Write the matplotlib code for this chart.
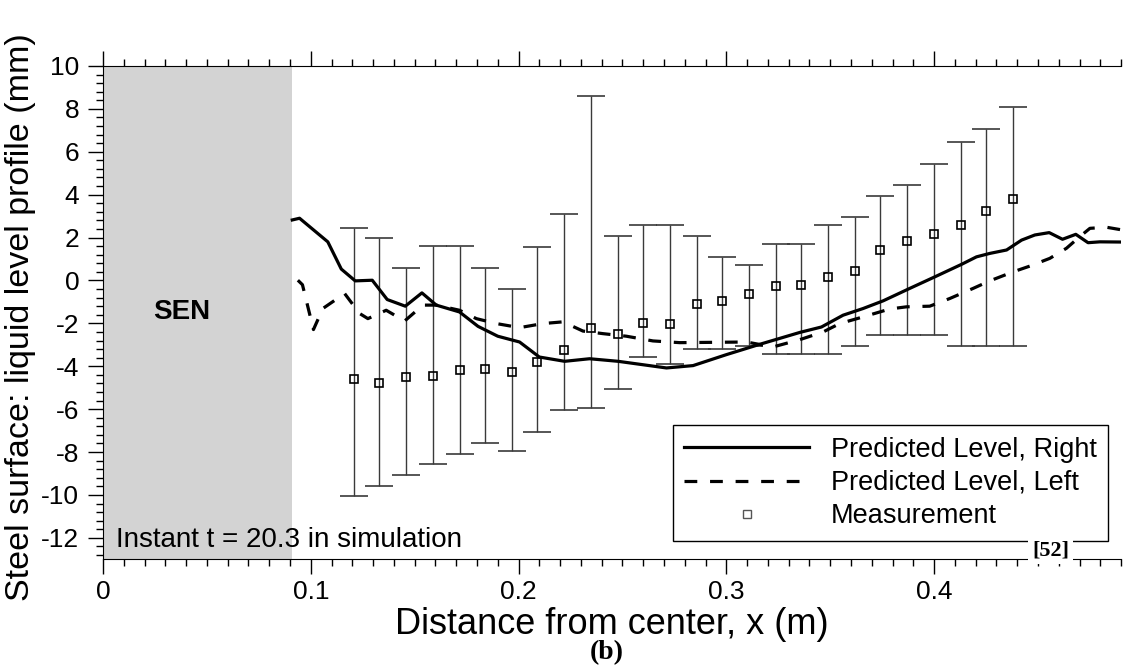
import matplotlib
matplotlib.use('Agg')
import matplotlib.pyplot as plt
from matplotlib.ticker import MultipleLocator
from matplotlib.lines import Line2D

plt.rcParams['font.family'] = ['Liberation Sans', 'DejaVu Sans']
plt.rcParams['axes.unicode_minus'] = False

# Predicted level, right side (solid)
right_x = [0.0911, 0.0946, 0.1082, 0.1147, 0.1214, 0.1296, 0.1368, 0.1455, 0.1535, 0.1604,
           0.1716, 0.1805, 0.1900, 0.2005, 0.2100, 0.2222, 0.2342, 0.2479, 0.2712, 0.2840,
           0.3000, 0.3160, 0.3355, 0.3458, 0.3562, 0.3658, 0.3755, 0.3883, 0.4004, 0.4132,
           0.4204, 0.4268, 0.4349, 0.4421, 0.4485, 0.4554, 0.4618, 0.4682, 0.4741, 0.4798,
           0.4908]
right_y = [2.82, 2.90, 1.80, 0.53, -0.02, 0.01, -0.89, -1.20, -0.58, -1.15,
           -1.47, -2.14, -2.60, -2.87, -3.57, -3.77, -3.65, -3.77, -4.08, -3.97,
           -3.46, -2.98, -2.42, -2.17, -1.62, -1.31, -0.95, -0.37, 0.17, 0.75,
           1.10, 1.26, 1.42, 1.88, 2.12, 2.23, 1.92, 2.15, 1.76, 1.80,
           1.79]

# Predicted level, left side (dashed)
left_x = [0.0938, 0.0960, 0.1013, 0.1058, 0.1163, 0.1235, 0.1275, 0.1363, 0.1452, 0.1540,
          0.1604, 0.1716, 0.1797, 0.1893, 0.2005, 0.2118, 0.2214, 0.2310, 0.2406, 0.2519,
          0.2647, 0.2776, 0.3097, 0.3225, 0.3354, 0.3466, 0.3546, 0.3658, 0.3787, 0.3867,
          0.3979, 0.4076, 0.4188, 0.4268, 0.4380, 0.4461, 0.4557, 0.4637, 0.4701, 0.4750,
          0.4830, 0.4908]
left_y = [0.01, -0.20, -2.29, -1.31, -0.61, -1.54, -1.78, -1.39, -1.89, -1.15,
          -1.15, -1.39, -1.78, -2.01, -2.20, -2.01, -1.93, -2.36, -2.48, -2.60,
          -2.82, -2.90, -2.87, -3.10, -2.76, -2.40, -2.01, -1.70, -1.33, -1.23,
          -1.20, -0.84, -0.37, -0.02, 0.40, 0.67, 1.03, 1.50, 2.04, 2.43,
          2.48, 2.35]

# Measurements with min / max range
meas_x = [0.121, 0.133, 0.146, 0.159, 0.172, 0.184, 0.197, 0.209, 0.222, 0.235,
          0.248, 0.260, 0.273, 0.286, 0.298, 0.311, 0.324, 0.336, 0.349, 0.362,
          0.374, 0.387, 0.400, 0.413, 0.425, 0.438]
meas_y = [-4.58, -4.80, -4.52, -4.47, -4.18, -4.13, -4.29, -3.80, -3.23, -2.23,
          -2.51, -1.98, -2.01, -1.12, -0.95, -0.61, -0.28, -0.22, 0.17, 0.43,
          1.40, 1.84, 2.16, 2.60, 3.24, 3.79]
meas_hi = [2.46, 1.96, 0.59, 1.59, 1.59, 0.59, -0.42, 1.57, 3.08, 8.60,
           2.08, 2.58, 2.58, 2.08, 1.07, 0.70, 1.71, 1.71, 2.58, 2.96,
           3.95, 4.45, 5.45, 6.46, 7.08, 8.08]
meas_lo = [-10.06, -9.57, -9.05, -8.57, -8.07, -7.57, -7.93, -7.07, -6.06, -5.93,
           -5.07, -3.55, -3.90, -3.18, -3.18, -3.05, -3.41, -3.41, -3.41, -3.05,
           -2.56, -2.56, -2.56, -3.05, -3.05, -3.05]

fig = plt.figure(figsize=(11.23, 6.71), dpi=100)
ax = fig.add_axes([0.0917, 0.1665, 0.9066, 0.7352])

# zone de la busete (SEN)
ax.axvspan(0, 0.0911, color='#d3d3d3', lw=0, zorder=0)

err = [[m - l for m, l in zip(meas_y, meas_lo)], [h - m for m, h in zip(meas_y, meas_hi)]]
ax.errorbar(meas_x, meas_y, yerr=err, fmt='s', ms=6, mfc='none', mec='black', mew=1.2,
            ecolor='#3a3a3a', elinewidth=1, capsize=10.4, capthick=1, zorder=2)

ax.plot(right_x, right_y, color='black', lw=2.3, zorder=3)
ax.plot(left_x, left_y, color='black', lw=2.3, ls=(0, (4, 4)), zorder=3)

ax.set_xlim(0, 0.49)
ax.set_ylim(-13, 10)
ax.xaxis.set_major_locator(MultipleLocator(0.1))
ax.xaxis.set_minor_locator(MultipleLocator(0.01))
ax.yaxis.set_major_locator(MultipleLocator(2))
ax.yaxis.set_minor_locator(MultipleLocator(0.4))
ax.set_xticks([0, 0.1, 0.2, 0.3, 0.4])
ax.set_xticklabels(['0', '0.1', '0.2', '0.3', '0.4'])
ax.tick_params(which='both', direction='out', top=True, right=False, width=1)
ax.tick_params(which='major', length=11)
ax.tick_params(which='minor', length=5)
ax.tick_params(axis='x', labelsize=19, pad=4)
ax.tick_params(axis='y', labelsize=19, pad=6)
ax.spines['right'].set_visible(False)

ax.set_xlabel('Distance from center, x (m)', fontsize=26, labelpad=2)
ax.set_ylabel('Steel surface: liquid level profile (mm)', fontsize=24.5)
ax.yaxis.set_label_coords(-0.066, 0.49)

ax.text(0.0378, -1.48, 'SEN', fontsize=20, fontweight='bold', ha='center', va='center')
ax.text(0.0064, -12.09, 'Instant t = 20.3 in simulation', fontsize=20, ha='left', va='center')

handles = [Line2D([], [], color='black', lw=2.3),
           Line2D([], [], color='black', lw=2.3, ls=(0, (4, 4))),
           Line2D([], [], ls='none', marker='s', ms=6, mfc='white', mec='#555555', mew=1)]
leg = ax.legend(handles, ['Predicted Level, Right', 'Predicted Level, Left', 'Measurement'],
                loc='lower right', bbox_to_anchor=(0.987, 0.0377), borderaxespad=0,
                fontsize=19.5, handlelength=4.6, handletextpad=0.8, labelspacing=0.27,
                borderpad=0.42, fancybox=False, framealpha=1, edgecolor='black')
leg.get_frame().set_linewidth(1)

fig.text(0.9355, 1 - 550 / 671, '[52]', fontsize=16, fontweight='bold', family='Liberation Serif',
         ha='center', va='center', bbox=dict(facecolor='white', edgecolor='none', pad=3))
fig.text(0.5405, 0.028, '(b)', fontsize=20, fontweight='bold', family='Liberation Serif',
         ha='center', va='center')

fig.savefig('out.png', dpi=100)
